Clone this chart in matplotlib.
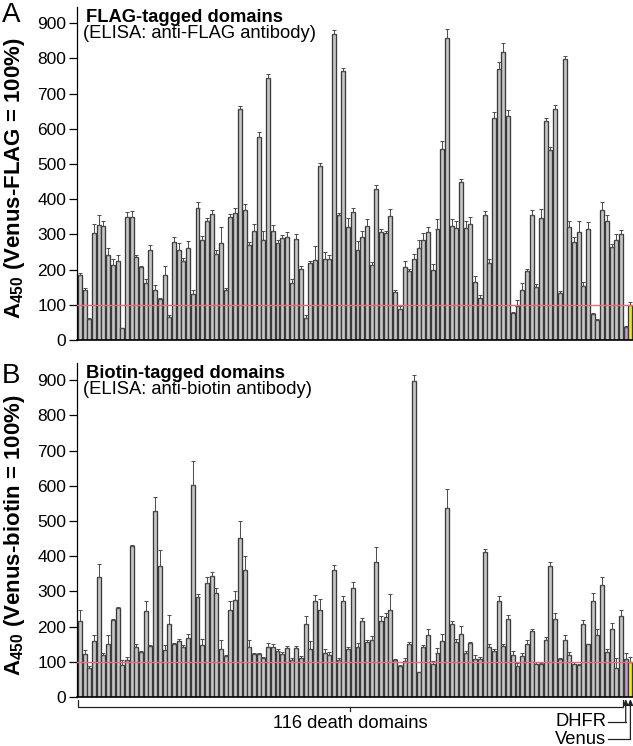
import matplotlib
matplotlib.use("Agg")
import matplotlib.pyplot as plt
import numpy as np

plt.rcParams['font.family'] = ['Liberation Sans', 'DejaVu Sans']
plt.rcParams['mathtext.fontset'] = 'custom'
plt.rcParams['mathtext.rm'] = 'Liberation Sans'
plt.rcParams['mathtext.bf'] = 'Liberation Sans:bold'

# 116 death domains, then DHFR, then Venus
flag_vals = [184, 141, 59, 304, 327, 324, 242, 212, 224, 33,
             349, 349, 236, 206, 162, 255, 141, 117, 184, 66,
             278, 257, 224, 260, 132, 376, 285, 337, 358, 245,
             276, 141, 349, 361, 655, 368, 269, 309, 577, 285,
             745, 311, 276, 290, 294, 162, 286, 203, 62, 219,
             228, 494, 230, 230, 869, 356, 764, 321, 365, 255,
             294, 325, 212, 429, 306, 304, 353, 136, 88, 207,
             195, 230, 262, 285, 306, 198, 316, 542, 858, 325,
             319, 450, 319, 330, 165, 118, 356, 220, 632, 771,
             818, 636, 77, 96, 143, 196, 356, 151, 346, 622,
             539, 655, 134, 797, 321, 278, 306, 153, 315, 75,
             58, 368, 339, 264, 285, 302, 38, 100]
flag_err = [5, 8, 3, 25, 28, 15, 20, 18, 18, 2,
            15, 18, 5, 5, 10, 15, 15, 3, 25, 5,
            15, 18, 8, 20, 10, 15, 10, 10, 12, 10,
            45, 8, 10, 15, 10, 18, 10, 20, 15, 25,
            10, 15, 8, 8, 12, 12, 15, 8, 10, 5,
            40, 10, 20, 12, 12, 5, 10, 25, 10, 25,
            15, 20, 10, 10, 10, 6, 20, 6, 10, 17,
            8, 15, 22, 19, 15, 19, 28, 22, 26, 19,
            18, 8, 18, 19, 17, 9, 11, 11, 16, 19,
            25, 16, 3, 17, 20, 6, 13, 9, 25, 9,
            9, 14, 6, 11, 17, 14, 32, 11, 19, 2,
            3, 25, 17, 9, 15, 11, 2, 7]

biotin_vals = [215, 121, 83, 158, 342, 119, 152, 218, 253, 92,
               105, 430, 142, 128, 244, 145, 529, 371, 133, 208,
               151, 158, 142, 168, 602, 284, 147, 324, 345, 296,
               136, 117, 248, 277, 451, 361, 142, 122, 121, 111,
               142, 142, 130, 123, 138, 105, 140, 112, 206, 135,
               272, 248, 126, 119, 361, 105, 272, 136, 309, 142,
               215, 157, 161, 383, 217, 227, 248, 105, 89, 103,
               150, 898, 70, 142, 175, 95, 125, 159, 538, 206,
               157, 180, 125, 154, 107, 107, 413, 142, 130, 274,
               145, 221, 119, 88, 116, 150, 187, 95, 95, 162,
               371, 221, 107, 162, 119, 95, 92, 206, 150, 274,
               177, 319, 128, 192, 81, 229, 109, 100]
biotin_err = [31, 12, 6, 17, 36, 5, 24, 5, 3, 12,
              9, 2, 8, 2, 30, 2, 38, 48, 16, 24,
              3, 8, 5, 12, 69, 9, 19, 16, 9, 13,
              25, 2, 26, 23, 50, 39, 21, 2, 3, 3,
              11, 9, 6, 6, 7, 7, 5, 4, 25, 24,
              17, 31, 11, 9, 14, 5, 15, 7, 17, 11,
              9, 5, 11, 44, 13, 12, 45, 3, 2, 8,
              7, 16, 2, 7, 17, 7, 15, 21, 52, 9,
              8, 22, 5, 2, 13, 8, 8, 9, 6, 12,
              7, 11, 11, 8, 8, 11, 6, 5, 3, 8,
              12, 18, 4, 15, 8, 5, 2, 12, 2, 22,
              17, 22, 8, 19, 31, 17, 17, 13]

yticks = [0, 100, 200, 300, 400, 500, 600, 700, 800, 900]

W, H = 633, 746
fig = plt.figure(figsize=(W / 100, H / 100), dpi=100)

def px_axes(top, bottom, left=77.3, right=633):
    return [left / W, 1 - bottom / H, (right - left) / W, (bottom - top) / H]

axA = fig.add_axes(px_axes(7, 340))
axB = fig.add_axes(px_axes(363, 697))

n = len(flag_vals)
x = np.arange(n)
face = ['#c6c6c6'] * (n - 2) + ['#c39bd3', '#f5e616']

def draw(ax, vals, err, ymax):
    vals = np.array(vals, dtype=float)
    err = np.array(err, dtype=float)
    ax.bar(x, vals, width=0.84, color=face, edgecolor='#3a3a3a', linewidth=0.95, zorder=2)
    ax.errorbar(x, vals, yerr=[np.zeros(n), err], fmt='none', ecolor='#505050',
                elinewidth=0.75, capsize=1.3, capthick=0.75, zorder=3)
    ax.axhline(100, color='#ea6a78', lw=1.0, zorder=4)
    ax.set_xlim(-0.55, n - 0.45)
    ax.set_ylim(0, ymax)
    ax.set_yticks(yticks)
    ax.set_xticks([])
    ax.tick_params(axis='y', labelsize=12.5, length=6, width=0.9, pad=2, direction='out')
    for s in ['top', 'right']:
        ax.spines[s].set_visible(False)
    ax.spines['left'].set_linewidth(0.9)
    ax.spines['bottom'].set_linewidth(1.2)

draw(axA, flag_vals, flag_err, 946)
draw(axB, biotin_vals, biotin_err, 949)

# panel titles
fig.text(86 / W, 1 - 18 / H, 'FLAG-tagged domains', fontsize=13.2, fontweight='bold', va='center', ha='left')
fig.text(83 / W, 1 - 34 / H, '(ELISA: anti-FLAG antibody)', fontsize=13.2, va='center', ha='left')
fig.text(86 / W, 1 - 373 / H, 'Biotin-tagged domains', fontsize=13.2, fontweight='bold', va='center', ha='left')
fig.text(83 / W, 1 - 389 / H, '(ELISA: anti-biotin antibody)', fontsize=13.2, va='center', ha='left')

# panel letters
fig.text(2 / W, 1 - 15 / H, 'A', fontsize=20, va='center', ha='left')
fig.text(2 / W, 1 - 376 / H, 'B', fontsize=20, va='center', ha='left')

# y labels
fig.text(14.5 / W, 1 - 178 / H, r'$\mathbf{A_{450}}$ (Venus-FLAG = 100%)', fontsize=16,
         fontweight='bold', rotation=90, va='center', ha='center')
fig.text(14.5 / W, 1 - 535 / H, r'$\mathbf{A_{450}}$ (Venus-biotin = 100%)', fontsize=16,
         fontweight='bold', rotation=90, va='center', ha='center')

# bottom annotations (panel B)
tr = axB.get_xaxis_transform()
def yax(ypix):
    return (697 - ypix) / (697 - 363)

lk = dict(color='#222222', lw=0.9, transform=tr, clip_on=False)
yb = yax(706.5)
axB.plot([-0.4, -0.4, 115.4, 115.4], [yax(700), yb, yb, yax(700)], **lk)
axB.plot([57.5, 57.5], [yb, yax(711)], **lk)
axB.text(57.5, yax(724), '116 death domains', transform=tr, ha='center', va='center', fontsize=13.2)

for idx, ypix, label in [(n - 2, 722, 'DHFR'), (n - 1, 739, 'Venus')]:
    axB.text(111.9, yax(ypix), label, transform=tr, ha='right', va='center', fontsize=13.2)
    axB.plot([112.2, idx], [yax(ypix), yax(ypix)], **lk)
    axB.annotate('', xy=(idx, yax(699)), xycoords=tr, xytext=(idx, yax(ypix)), textcoords=tr,
                 arrowprops=dict(arrowstyle='-|>,head_length=0.35,head_width=0.15',
                                 color='#222222', lw=0.9, shrinkA=0, shrinkB=0),
                 annotation_clip=False)

fig.savefig('out.png', dpi=100)
